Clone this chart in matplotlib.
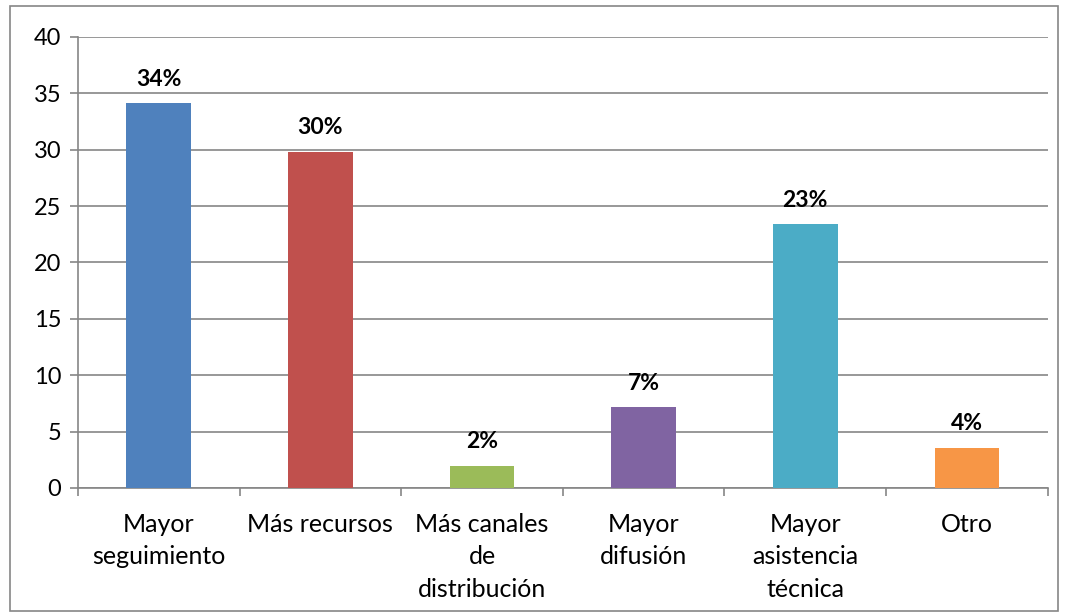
import matplotlib.pyplot as plt
from matplotlib.patches import Rectangle

categories = ["Mayor\nseguimiento", "Más recursos", "Más canales\nde\ndistribución",
              "Mayor\ndifusión", "Mayor\nasistencia\ntécnica", "Otro"]
values = [34.1, 29.8, 1.95, 7.15, 23.4, 3.55]
labels = ["34%", "30%", "2%", "7%", "23%", "4%"]
colors = ["#4f81bd", "#c0504d", "#9bbb59", "#8064a2", "#4bacc6", "#f79646"]

plt.rcParams['font.family'] = ['Lato', 'DejaVu Sans']

fig = plt.figure(figsize=(10.68, 6.16), dpi=100)
ax = fig.add_axes([0.073, 0.208, 0.908, 0.732])

x = list(range(len(categories)))
ax.bar(x, values, width=0.4, color=colors, zorder=3)
for i, v in enumerate(values):
    ax.text(i, v + 1.2, labels[i], ha='center', va='bottom', fontsize=16.5, fontweight='bold')

ax.set_xlim(-0.5, len(categories) - 0.5)
ax.set_ylim(0, 40)
ax.set_yticks(range(0, 41, 5))
ax.yaxis.grid(True, color='#868686', linewidth=1.2, zorder=0)
ax.set_xticks([i - 0.5 for i in range(len(categories) + 1)])
ax.set_xticklabels([])
ax.set_xticks(x, minor=True)
ax.set_xticklabels(categories, minor=True, fontsize=18, linespacing=1.5, va='top')
ax.tick_params(axis='x', which='minor', length=0, pad=18)
ax.tick_params(axis='x', which='major', length=6, color='#868686', width=1.2)
ax.tick_params(axis='y', length=6, color='#868686', width=1.2, labelsize=17, pad=6)

for s in ['top', 'right']:
    ax.spines[s].set_visible(False)
for s in ['left', 'bottom']:
    ax.spines[s].set_color('#868686')
    ax.spines[s].set_linewidth(1.2)

fig.patches.append(Rectangle((0.009, 0.008), 0.982, 0.982, transform=fig.transFigure,
                             fill=False, edgecolor='#868686', linewidth=1.2))

fig.savefig("out.png", dpi=100)
